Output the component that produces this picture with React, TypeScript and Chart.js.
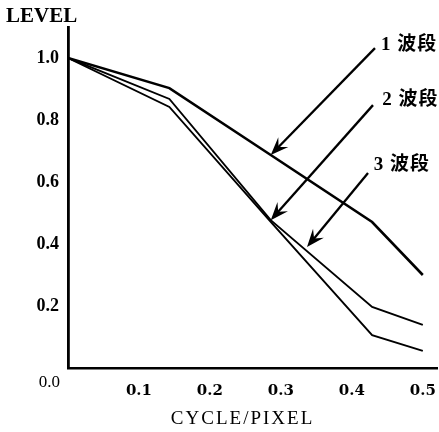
import { useEffect, useRef } from 'react';
import { Chart, registerables } from 'chart.js';

Chart.register(...registerables);

// ---- data ----
const xValues = [0, 1 / 7, 2 / 7, 3 / 7, 0.5];
const band1 = [1.0, 0.903, 0.687, 0.471, 0.3];
const band2 = [1.0, 0.868, 0.477, 0.197, 0.139];
const band3 = [1.0, 0.842, 0.471, 0.106, 0.055];
const seriesNames = ['1 波段', '2 波段', '3 波段'];
const xTicks = [0.1, 0.2, 0.3, 0.4, 0.5];
const yTicks = [0.2, 0.4, 0.6, 0.8, 1.0];
const yAxisTitle = 'LEVEL';
const xAxisTitle = 'CYCLE/PIXEL';
const originLabel = '0.0';

// annotation anchors (data units)
const labelX = [0.441, 0.443, 0.431];
const labelY = [1.042, 0.865, 0.655];
const arrowFromX = [0.4326, 0.4298, 0.4228];
const arrowFromY = [1.032, 0.848, 0.629];
const arrowToX = [2 / 7, 2 / 7, 0.3368];
const arrowToY = [band1[2], band2[2], 0.39];

const SERIF = '"Liberation Serif", "DejaVu Serif", serif';
const WIDE_SERIF = '"DejaVu Serif", "Liberation Serif", serif';
const CJK = '"Liberation Serif", "Noto Sans CJK SC", sans-serif';

function drawArrow(ctx: CanvasRenderingContext2D, x0: number, y0: number, x1: number, y1: number) {
  const ang = Math.atan2(y1 - y0, x1 - x0);
  const L = 18;
  const W = 7;
  const ux = Math.cos(ang), uy = Math.sin(ang);
  const px = -uy, py = ux;
  ctx.beginPath();
  ctx.moveTo(x0, y0);
  ctx.lineTo(x1 - ux * L * 0.6, y1 - uy * L * 0.6);
  ctx.lineWidth = 2.3;
  ctx.stroke();
  ctx.beginPath();
  ctx.moveTo(x1, y1);
  ctx.lineTo(x1 - ux * L + px * W, y1 - uy * L + py * W);
  ctx.lineTo(x1 - ux * L * 0.62, y1 - uy * L * 0.62);
  ctx.lineTo(x1 - ux * L - px * W, y1 - uy * L - py * W);
  ctx.closePath();
  ctx.fill();
}

const annotPlugin = {
  id: 'annot',
  afterDraw(chart: any) {
    const { ctx, scales, chartArea } = chart;
    const xs = scales.x, ys = scales.y;
    ctx.save();
    ctx.fillStyle = '#000';
    ctx.strokeStyle = '#000';
    for (let i = 0; i < seriesNames.length; i++) {
      drawArrow(
        ctx,
        xs.getPixelForValue(arrowFromX[i]),
        ys.getPixelForValue(arrowFromY[i]),
        xs.getPixelForValue(arrowToX[i]),
        ys.getPixelForValue(arrowToY[i])
      );
    }
    ctx.font = 'bold 19px ' + CJK;
    (ctx as any).letterSpacing = '1px';
    ctx.textBaseline = 'middle';
    ctx.textAlign = 'left';
    for (let i = 0; i < seriesNames.length; i++) {
      ctx.fillText(seriesNames[i], xs.getPixelForValue(labelX[i]), ys.getPixelForValue(labelY[i]));
    }
    (ctx as any).letterSpacing = '0px';
    // y axis title
    ctx.font = 'bold 21px ' + SERIF;
    ctx.textAlign = 'left';
    ctx.fillText(yAxisTitle, chartArea.left - 62, chartArea.top - 10);
    // x axis title
    ctx.font = '19px ' + SERIF;
    (ctx as any).letterSpacing = '2px';
    ctx.textAlign = 'center';
    ctx.fillText(xAxisTitle, xs.getPixelForValue(0.246), chartArea.bottom + 51);
    (ctx as any).letterSpacing = '0px';
    // origin label
    ctx.font = '17px ' + SERIF;
    ctx.textAlign = 'right';
    ctx.fillText(originLabel, chartArea.left - 8, chartArea.bottom + 15);
    ctx.restore();
  },
};

export default function App() {
  const ref = useRef<HTMLCanvasElement>(null);
  useEffect(() => {
    document.body.style.margin = '0';
    const toPts = (ys: number[]) => xValues.map((x, i) => ({ x, y: ys[i] }));
    const chart = new Chart(ref.current!, {
      type: 'line',
      data: {
        datasets: [
          { label: seriesNames[0], data: toPts(band1), borderColor: '#000', borderWidth: 2.6 },
          { label: seriesNames[1], data: toPts(band2), borderColor: '#000', borderWidth: 1.9 },
          { label: seriesNames[2], data: toPts(band3), borderColor: '#000', borderWidth: 1.9 },
        ],
      },
      options: {
        animation: false,
        responsive: false,
        maintainAspectRatio: false,
        layout: { padding: { top: 27, right: 2, left: 0, bottom: 0 } },
        elements: { point: { radius: 0 }, line: { tension: 0 } },
        plugins: { legend: { display: false }, tooltip: { enabled: false } },
        scales: {
          x: {
            type: 'linear',
            min: 0,
            max: 0.52,
            afterFit: (s: any) => {
              s.height = 64;
              s.paddingLeft = 0;
              s.paddingRight = 0;
            },
            afterBuildTicks: (s: any) => { s.ticks = xTicks.map((v) => ({ value: v })); },
            grid: { display: false, drawTicks: false },
            border: { display: true, color: '#000', width: 2.6 },
            ticks: {
              padding: 14,
              color: '#000',
              font: { family: WIDE_SERIF, size: 15, weight: 'bold' },
              callback: (v: any) => Number(v).toFixed(1),
            },
          },
          y: {
            type: 'linear',
            min: 0,
            max: 1.1,
            afterFit: (s: any) => {
              s.width = 68;
              s.paddingTop = 0;
              s.paddingBottom = 0;
            },
            afterBuildTicks: (s: any) => { s.ticks = yTicks.map((v) => ({ value: v })); },
            grid: { display: false, drawTicks: false },
            border: { display: true, color: '#000', width: 2.8 },
            ticks: {
              padding: 9,
              color: '#000',
              font: { family: SERIF, size: 18, weight: 'bold' },
              callback: (v: any) => Number(v).toFixed(1),
            },
          },
        },
      },
      plugins: [annotPlugin],
    });
    return () => chart.destroy();
  }, []);
  return (
    <div style={{ width: 439, height: 432, background: '#fff' }}>
      <canvas ref={ref} width={439} height={432} />
    </div>
  );
}
